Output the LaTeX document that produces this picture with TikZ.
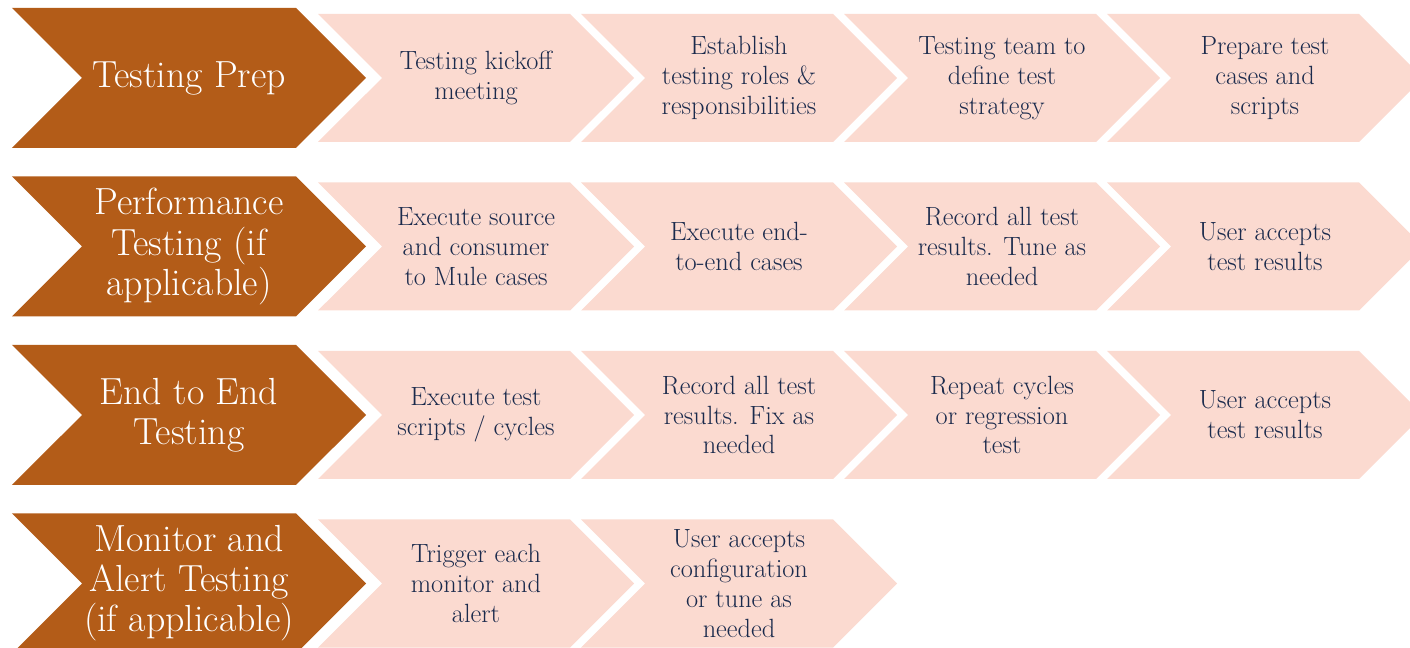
\documentclass[tikz,border=0pt]{standalone}
\usepackage{xcolor}
\usepackage{tikz}
\usetikzlibrary{shapes.symbols}
\definecolor{prepbrown}{HTML}{B35C18}
\definecolor{steppink}{HTML}{FBDAD0}
\definecolor{stepnavy}{HTML}{1A2A4C}
\tikzstyle{phase} = [signal,signal from=west,signal to=east,fill=prepbrown,text=white,minimum width=7.08cm,minimum height=2.8cm,inner sep=0pt,align=center,font=\fontsize{21.5}{22.8}\selectfont]
\tikzstyle{task} = [signal,signal from=west,signal to=east,fill=steppink,text=stepnavy,minimum width=6.32cm,minimum height=2.56cm,inner sep=0pt,align=center,font=\fontsize{15}{17}\selectfont]

\begin{document}
\begin{tikzpicture}
            \useasboundingbox (0,0) rectangle (28.2,12.96);
            % testing prep
            \node[phase] (a) at (3.78,11.4) {Testing Prep};
            \node[task] (a1) at (9.52,11.4) {Testing kickoff \\ meeting};
            \node[task] (a2) at (14.78,11.4) {Establish \\ testing roles \& \\ responsibilities};
            \node[task] (a3) at (20.04,11.4) {Testing team to \\ define test \\ strategy};
            \node[task] (a4) at (25.30,11.4) {Prepare test \\ cases and \\ scripts};
            % performance
            \node[phase] (b) at (3.78,8.03) {Performance \\ Testing (if \\ applicable)};
            \node[task] (b1) at (9.52,8.03) {Execute source \\ and consumer \\ to Mule cases};
            \node[task] (b2) at (14.78,8.03) {Execute end- \\ to-end cases};
            \node[task] (b3) at (20.04,8.03) {Record all test \\ results. Tune as \\ needed};
            \node[task] (b4) at (25.30,8.03) {User accepts \\ test results};
            % end to end
            \node[phase] (c) at (3.78,4.66) {End to End \\ Testing};
            \node[task] (c1) at (9.52,4.66) {Execute test \\ scripts / cycles};
            \node[task] (c2) at (14.78,4.66) {Record all test \\ results. Fix as \\ needed};
            \node[task] (c3) at (20.04,4.66) {Repeat cycles \\ or regression \\ test};
            \node[task] (c4) at (25.30,4.66) {User accepts \\ test results};
            % monitor
            \node[phase] (d) at (3.78,1.29) {Monitor and \\ Alert Testing \\ (if applicable)};
            \node[task] (d1) at (9.52,1.29) {Trigger each \\ monitor and \\ alert};
            \node[task] (d2) at (14.78,1.29) {User accepts \\ configuration \\ or tune as \\ needed};
        \end{tikzpicture}
\end{document}
